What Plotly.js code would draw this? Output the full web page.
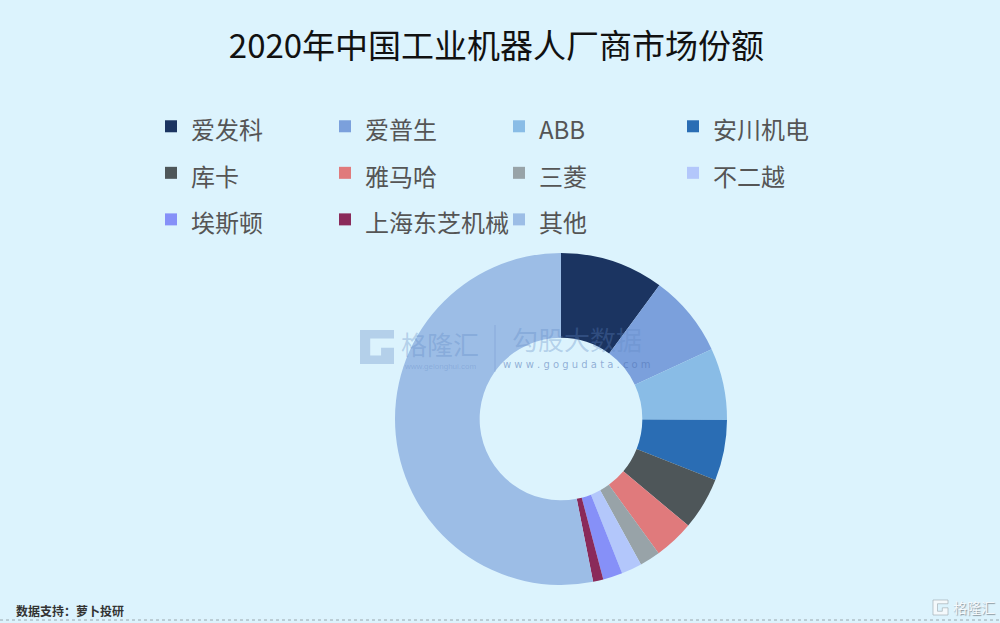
<!DOCTYPE html>
<html>
<head>
<meta charset="utf-8">
<script src="https://cdn.plot.ly/plotly-3.0.1.min.js"></script>
<style>
html,body{margin:0;padding:0;background:#dcf3fd;}
#chart{width:1000px;height:623px;}
</style>
</head>
<body>
<div id="chart"></div>
<script>
// Data
const companies = ["爱发科","爱普生","ABB","安川机电","库卡","雅马哈","三菱","不二越","埃斯顿","上海东芝机械","其他"];
const shares = [10.1, 8.0, 7.0, 5.9, 5.1, 3.9, 2.0, 2.0, 1.9, 1.0, 53.1];
const sliceColors = ["#1b3461","#7ba0dc","#89bce6","#2a6db4","#4e5659","#e07a7c","#98a3a8","#b3c7fb","#8690f8","#8a2a5a","#9cbde6"];
const chartTitle = "2020年中国工业机器人厂商市场份额";
const sourceText = "数据支持：萝卜投研";

const W = 1000, H = 623;
const ML = 100, MR = 120;           // plot area margins (px)
const GW = W - ML - MR;             // plot area width (px)
const px = x => (x - ML) / GW;      // page px -> paper x
const py = y => 1 - y / H;          // page px -> paper y
const cx = x => x / W;              // page px -> container x

const wmColor = "rgba(95,135,195,0.32)";

const trace = {
  type: "pie",
  labels: companies.map(c => '<span style="font-size:24px">' + c + '</span>'),
  values: shares,
  marker: {colors: sliceColors, line: {width: 0}},
  sort: false,
  direction: "clockwise",
  rotation: 0,
  hole: 0.49,
  textinfo: "none",
  hoverinfo: "none",
  domain: {x: [px(395), px(727)], y: [py(585), py(253)]}
};

function gPath(x0, y0, s) {
  const pts = [[0,0],[1,0],[1,0.25],[0.3,0.25],[0.3,0.75],[0.62,0.75],[0.62,0.52],[1,0.52],[1,1],[0,1]];
  return "M" + pts.map(p => px(x0 + p[0]*s) + "," + py(y0 + p[1]*s)).join(" L") + " Z";
}

const layout = {
  width: W, height: H,
  paper_bgcolor: "#dcf3fd",
  plot_bgcolor: "#dcf3fd",
  margin: {l: ML, r: MR, t: 0, b: 0, autoexpand: false},
  font: {family: "'Noto Sans CJK SC', 'Noto Sans', sans-serif"},
  title: {
    text: chartTitle,
    font: {size: 33, color: "#111"},
    x: 0.4965, xanchor: "center", xref: "container",
    y: py(46), yanchor: "middle", yref: "container"
  },
  showlegend: true,
  legend: {
    orientation: "h",
    xref: "container", yref: "container",
    x: cx(157), xanchor: "left",
    y: py(98), yanchor: "top",
    entrywidth: 135, entrywidthmode: "pixels",
    indentation: -6,
    font: {size: 33.5, color: "#555"},
    bgcolor: "rgba(0,0,0,0)",
    tracegroupgap: 0,
    itemclick: false, itemdoubleclick: false
  },
  shapes: [
    {type: "path", xref: "paper", yref: "paper", path: gPath(360, 330, 34), fillcolor: wmColor, line: {width: 0}},
    {type: "line", xref: "paper", yref: "paper", x0: px(495), x1: px(495), y0: py(325), y1: py(372), line: {color: wmColor, width: 1}},
    {type: "line", xref: "paper", yref: "paper", x0: px(0), x1: px(1000), y0: py(620), y1: py(620), line: {color: "#9aa6ad", width: 1, dash: "dot"}},
    {type: "path", xref: "paper", yref: "paper", path: gPath(933, 600, 15), fillcolor: "#f4f9fc", line: {color: "#9aa6ad", width: 0.6}}
  ],
  annotations: [
    {xref: "paper", yref: "paper", x: px(440), y: py(343), text: "格隆汇", showarrow: false,
     font: {size: 26, color: wmColor}, xanchor: "center", yanchor: "middle"},
    {xref: "paper", yref: "paper", x: px(440), y: py(366), text: "www.gelonghui.com", showarrow: false,
     font: {size: 8, color: wmColor, family: "Arial, sans-serif"}, xanchor: "center", yanchor: "middle"},
    {xref: "paper", yref: "paper", x: px(577), y: py(339), text: "勾股大数据", showarrow: false,
     font: {size: 26, color: wmColor}, xanchor: "center", yanchor: "middle"},
    {xref: "paper", yref: "paper", x: px(577), y: py(364), text: "w w w . g o g u d a t a . c o m", showarrow: false,
     font: {size: 10, color: "rgba(80,115,180,0.55)", family: "'DejaVu Sans', sans-serif"}, xanchor: "center", yanchor: "middle"},
    {xref: "paper", yref: "paper", x: px(14), y: py(610), text: "<b>" + sourceText + "</b>", showarrow: false,
     font: {size: 12, color: "#333"}, xanchor: "left", yanchor: "middle"},
    {xref: "paper", yref: "paper", x: px(997), y: py(607), text: "格隆汇", showarrow: false,
     font: {size: 14, color: "#f4f9fc", shadow: "1px 1px 1px #8d99a0"}, xanchor: "right", yanchor: "middle"}
  ]
};

Plotly.newPlot("chart", [trace], layout, {displayModeBar: false, staticPlot: true});
</script>
</body>
</html>
